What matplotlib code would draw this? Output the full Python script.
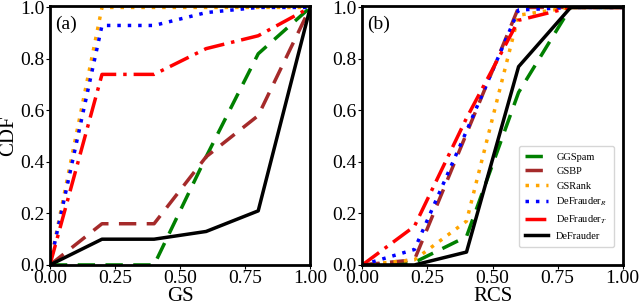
import matplotlib
matplotlib.use("Agg")
import matplotlib.pyplot as plt

plt.rcParams['font.family'] = ['Liberation Serif', 'DejaVu Serif']
plt.rcParams['mathtext.fontset'] = 'stix'

x = [0.0, 0.2, 0.4, 0.6, 0.8, 1.0]

# panel (a): GS
gs_ggspam = [0.0, 0.0, 0.0, 0.42, 0.82, 1.0]
gs_gsbp = [0.0, 0.16, 0.16, 0.42, 0.58, 1.0]
gs_gsrank = [0.0, 1.0, 1.0, 1.0, 1.0, 1.0]
gs_defr = [0.0, 0.93, 0.93, 0.98, 1.0, 1.0]
gs_deft = [0.0, 0.74, 0.74, 0.84, 0.89, 1.0]
gs_def = [0.0, 0.10, 0.10, 0.13, 0.21, 1.0]

# panel (b): RCS
rcs_ggspam = [0.0, 0.01, 0.11, 0.67, 1.0, 1.0]
rcs_gsbp = [0.0, 0.02, 0.51, 1.0, 1.0, 1.0]
rcs_gsrank = [0.0, 0.02, 0.17, 0.97, 1.0, 1.0]
rcs_defr = [0.0, 0.06, 0.52, 0.99, 1.0, 1.0]
rcs_deft = [0.0, 0.15, 0.57, 0.95, 1.0, 1.0]
rcs_def = [0.0, 0.0, 0.05, 0.77, 1.0, 1.0]

labels = ['GGSpam', 'GSBP', 'GSRank', r'DeFrauder$_R$', r'DeFrauder$_T$', 'DeFrauder']
colors = ['green', 'brown', 'orange', 'blue', 'red', 'black']
styles = [(0, (5, 3)), (0, (5, 3)), (0, (1, 2)), (0, (1, 2)), (0, (6, 2, 1, 2)), '-']

fig, (ax1, ax2) = plt.subplots(1, 2, figsize=(6.4, 3.07), dpi=100)
fig.subplots_adjust(left=0.078, right=0.973, top=0.98, bottom=0.137, wspace=0.2)

for ax, series, xl, tag in [
    (ax1, [gs_ggspam, gs_gsbp, gs_gsrank, gs_defr, gs_deft, gs_def], 'GS', '(a)'),
    (ax2, [rcs_ggspam, rcs_gsbp, rcs_gsrank, rcs_defr, rcs_deft, rcs_def], 'RCS', '(b)'),
]:
    for s, lab, c, ls in zip(series, labels, colors, styles):
        ax.plot(x, s, color=c, linestyle=ls, linewidth=2.5, label=lab)
    ax.set_xlim(0, 1)
    ax.set_ylim(0, 1.005)
    ax.set_xticks([0, 0.25, 0.5, 0.75, 1.0])
    ax.set_xticklabels(['0.00', '0.25', '0.50', '0.75', '1.00'])
    ax.set_yticks([0, 0.2, 0.4, 0.6, 0.8, 1.0])
    ax.tick_params(labelsize=14, length=3, pad=1)
    ax.set_xlabel(xl, fontsize=15, labelpad=0)
    ax.text(0.02, 0.93, tag, transform=ax.transAxes, fontsize=14, va='center')
    for sp in ax.spines.values():
        sp.set_linewidth(2)

ax1.set_ylabel('CDF', fontsize=15, labelpad=1)
leg = ax2.legend(loc='lower right', fontsize=7.5, handlelength=2.2, labelspacing=0.5,
                 bbox_to_anchor=(0.985, 0.05), borderpad=0.6)

fig.savefig('out.png', dpi=100)
